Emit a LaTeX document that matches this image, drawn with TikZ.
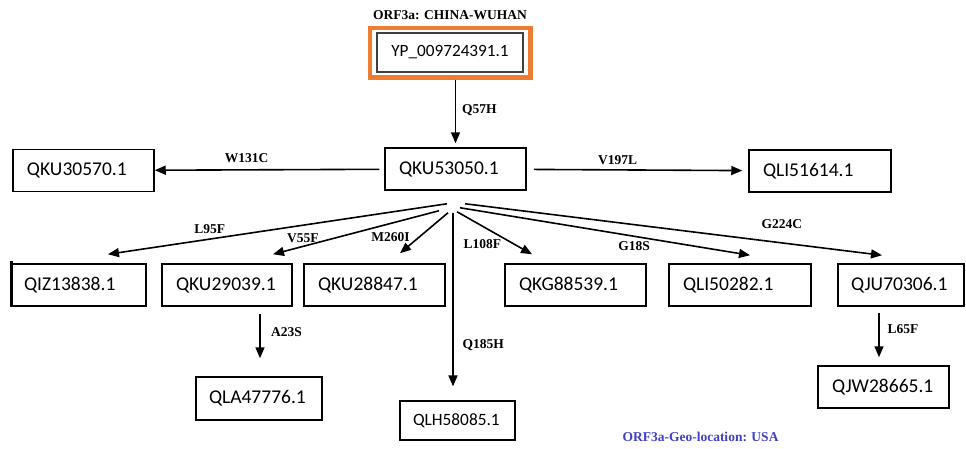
\documentclass[tikz,border=0pt]{standalone}
\usepackage{fontspec}
\setmainfont{Liberation Serif}
\newfontfamily\accfont{Carlito}
\usetikzlibrary{arrows.meta,fit}
\definecolor{framecol}{RGB}{237,125,49}
\definecolor{geocol}{RGB}{64,64,192}
\tikzset{
  acc/.style={rectangle,draw,line width=1.5pt,inner xsep=14pt,align=left,
    minimum height=42pt,font=\accfont\fontsize{19.5}{22}\selectfont},
  mut/.style={font=\bfseries\fontsize{13.5}{15}\selectfont},
  arr/.style={-{Triangle[length=11pt,width=9pt]},line width=1.6pt}
}
\begin{document}
\begin{tikzpicture}[x=1pt,y=-1pt]
    \useasboundingbox (0,0) rectangle (966,448);

    % reference sequence
    \node[acc,draw=black!75,align=center,inner xsep=4pt,minimum width=146pt,minimum height=39pt,
          font=\accfont\fontsize{17.2}{20}\selectfont](w0) at (450,52.5){YP\_009724391.1};
    \node[draw=framecol,line width=4.5pt,inner xsep=6.5pt,inner ysep=4.5pt,fit=(w0),
          label={[mut,label distance=2.7pt]90:{ORF3a: CHINA-WUHAN}}](w0f){};

    \node[acc,text width=113pt](w1) at (455.5,169){QKU53050.1};
    \node[acc,text width=113pt](w2) at (83.5,170.5){QKU30570.1};
    \node[acc,text width=114pt](w3) at (820,171){QLI51614.1};

    % second row
    \node[acc,text width=110pt,inner xsep=12pt](w4) at (79,285){QIZ13838.1};
    \node[acc,text width=102pt](w5) at (227,285){QKU29039.1};
    \node[acc,text width=113pt](w6) at (374.5,285){QKU28847.1};
    \node[acc,text width=113pt](w7) at (575.5,285){QKG88539.1};
    \node[acc,text width=114pt](w8) at (740,285){QLI50282.1};
    \node[acc,text width=100pt,inner xsep=13pt](w9) at (901,285){QJU70306.1};
    \draw[line width=2.5pt] ([yshift=2pt]w4.north west) -- (w4.south west);

    % third row
    \node[acc,text width=100pt,minimum height=43pt,inner xsep=13pt](w10) at (259,398.5){QLA47776.1};
    \node[acc,text width=89pt,minimum height=39pt,line width=1.2pt,inner xsep=13pt,
          font=\accfont\fontsize{17.3}{20}\selectfont](w11) at (457.5,420.5){QLH58085.1};
    \node[acc,text width=103pt](w12) at (883.5,387){QJW28665.1};

    \path[arr] (w0f.south -| w1.north) edge [shorten >=4pt] node[mut,right=2.5pt,pos=0.45] {Q57H} (w1.north)
    (w1) edge [shorten <=5pt] node[mut,above=3pt,pos=0.6] {W131C} (w2)
    (w1) edge [shorten <=7pt,shorten >=6pt] node[mut,above=1pt,pos=0.41] {V197L} (w3);

    \path[arr] ([shift={(-8.5,13)}]w1.south) edge node[mut,above=1pt,pos=0.7] {L95F} ([shift={(29,-9)}]w4.north)
    ([shift={(-16.5,20)}]w1.south) edge node[mut,above=0pt,pos=0.82] {V55F} ([shift={(46,-9)}]w5.north)
    ([shift={(-7.5,22)}]w1.south) edge node[mut,left=5pt,pos=0.61] {M260I} ([shift={(25.5,-10)}]w6.north)
    ([shift={(-2.5,22)}]w1.south) edge node[mut,right=5.5pt,pos=0.76] {Q185H} ([shift={(-4.5,-14)}]w11.north)
    ([shift={(1.5,21)}]w1.south) edge node[mut,left=8pt,pos=0.75] {L108F} ([shift={(-43.5,-9)}]w7.north)
    ([shift={(4.5,17)}]w1.south) edge node[mut,below=1pt,pos=0.6] {G18S} ([shift={(10,-8)}]w8.north)
    ([shift={(9.5,13)}]w1.south) edge node[mut,above=10pt,pos=0.76] {G224C} ([shift={(-19,-8)}]w9.north);

    \path[arr] ([shift={(33,7)}]w5.south) edge node[mut,right=7pt,pos=0.42] {A23S} ([shift={(1,-18)}]w10.north)
    ([shift={(-22,6)}]w9.south) edge node[mut,right=4.5pt,pos=0.37] {L65F} ([shift={(-4.5,-8)}]w12.north);

    \node[mut,text=geocol,anchor=base](geo) at (700.5,441){ORF3a-Geo-location: USA};

\end{tikzpicture}
\end{document}
